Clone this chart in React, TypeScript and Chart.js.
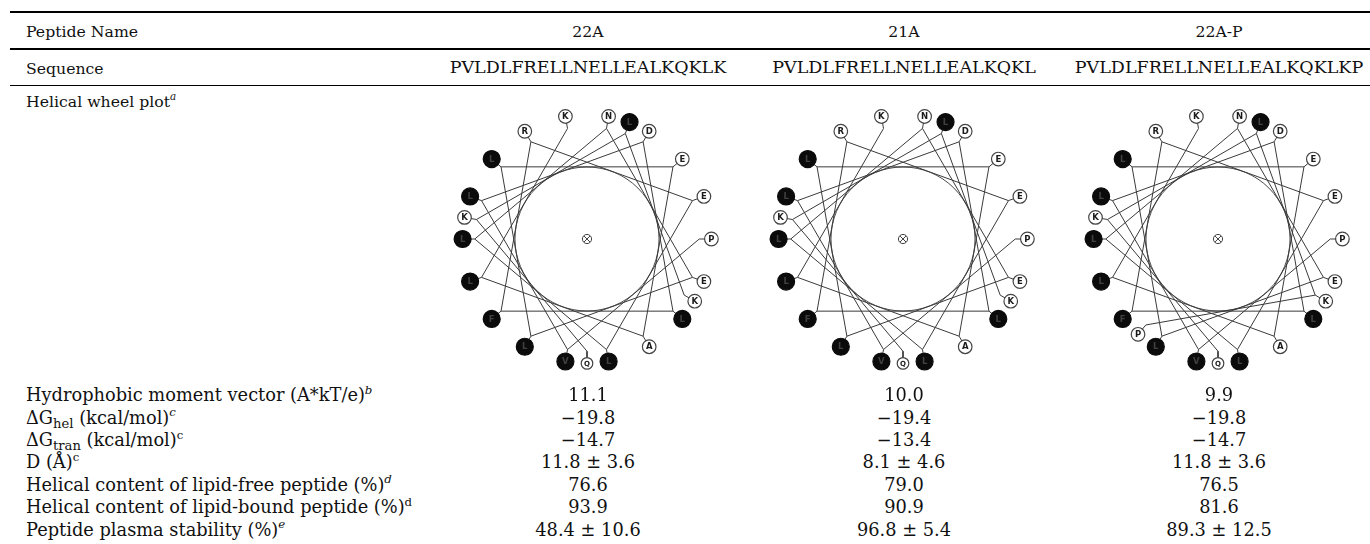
import React, { useEffect, useRef } from "react";
import { Chart, registerables } from "chart.js";

Chart.register(...registerables);

// ---------------- data ----------------
const peptideNames = ["22A", "21A", "22A-P"];
const sequences = ["PVLDLFRELLNELLEALKQKLK", "PVLDLFRELLNELLEALKQKL", "PVLDLFRELLNELLEALKQKLKP"];
// residues as printed on each helical wheel in the figure
const wheelResidues = ["PVLDLFRELLNELLEALKQKLK", "PVLDLFRELLNELLEALKQKLK", "PVLDLFRELLNELLEALKQKLKP"];
const hydrophobicResidues = ["L", "V", "F", "I", "M", "W"];
const hydrophobicMoment = ["11.1", "10.0", "9.9"];
const deltaGhel = ["\u221219.8", "\u221219.4", "\u221219.8"];
const deltaGtran = ["\u221214.7", "\u221213.4", "\u221214.7"];
const depthD = ["11.8 \u00b1 3.6", "8.1 \u00b1 4.6", "11.8 \u00b1 3.6"];
const helicalLipidFree = ["76.6", "79.0", "76.5"];
const helicalLipidBound = ["93.9", "90.9", "81.6"];
const plasmaStability = ["48.4 \u00b1 10.6", "96.8 \u00b1 5.4", "89.3 \u00b1 12.5"];

// helical wheel geometry (degrees, clockwise from top)
const RESIDUES_PER_RING = 18;
const DEG_PER_RESIDUE = 100;
const FIRST_ANGLE = 90;
const EXTRA_SHIFT = 90;

type Seg = { t: string; sup?: boolean; sub?: boolean; it?: boolean };

const rowLabels: Seg[][] = [
  [{ t: "Hydrophobic moment vector (A*kT/e)" }, { t: "b", sup: true, it: true }],
  [{ t: "\u0394G" }, { t: "hel", sub: true }, { t: " (kcal/mol)" }, { t: "c", sup: true, it: true }],
  [{ t: "\u0394G" }, { t: "tran", sub: true }, { t: " (kcal/mol)" }, { t: "c", sup: true }],
  [{ t: "D (\u00c5)" }, { t: "c", sup: true }],
  [{ t: "Helical content of lipid-free peptide (%)" }, { t: "d", sup: true, it: true }],
  [{ t: "Helical content of lipid-bound peptide (%)" }, { t: "d", sup: true }],
  [{ t: "Peptide plasma stability (%)" }, { t: "e", sup: true, it: true }],
];
const rowValues = [hydrophobicMoment, deltaGhel, deltaGtran, depthD, helicalLipidFree, helicalLipidBound, plasmaStability];

// ---------------- layout / style ----------------
const FONT = '"DejaVu Serif", serif';
const COL_X = [588, 904, 1219];
const LABEL_X = 26;
const HEAD_SIZE = 15.7;
const SEQ_SIZE = 17.5;
const ROW_SIZE = 17.8;
const ROW_BASE = 401.5;
const ROW_STEP = 22.35;
const WHEEL_CY = 239;
const WHEEL_BOX = 300;
const RING_R = 133;
const VERTEX_R = 120;
const INNER_R = 77;
const LINE_COLOR = "#3a3a3a";

function Rich({ segs, size }: { segs: Seg[]; size: number }) {
  return (
    <>
      {segs.map((s, i) => {
        if (s.sup)
          return (
            <span key={i} style={{ fontSize: size * 0.66, position: "relative", top: -size * 0.42, fontStyle: s.it ? "italic" : "normal", lineHeight: 1 }}>
              {s.t}
            </span>
          );
        if (s.sub)
          return (
            <span key={i} style={{ fontSize: size * 0.74, position: "relative", top: size * 0.22, lineHeight: 1 }}>
              {s.t}
            </span>
          );
        return <span key={i}>{s.t}</span>;
      })}
    </>
  );
}

function TextAt({ x, baseline, size, center, children }: any) {
  return (
    <div
      style={{
        position: "absolute",
        left: x,
        top: baseline - 0.846 * size,
        fontSize: size,
        lineHeight: 1,
        fontFamily: FONT,
        whiteSpace: "nowrap",
        color: "#111",
        transform: center ? "translateX(-50%)" : undefined,
      }}
    >
      {children}
    </div>
  );
}

function Rule({ y, h }: { y: number; h: number }) {
  return <div style={{ position: "absolute", left: 10, width: 1360, top: y, height: h, background: "#000" }} />;
}

function residueAngle(i: number) {
  // i is 1-based
  const a = FIRST_ANGLE + DEG_PER_RESIDUE * (i - 1) + (i > RESIDUES_PER_RING ? EXTRA_SHIFT : 0);
  return ((a % 360) + 360) % 360;
}

function polar(r: number, deg: number) {
  const a = (deg * Math.PI) / 180;
  return { x: r * Math.sin(a), y: r * Math.cos(a) };
}

function Wheel({ residues, cx }: { residues: string; cx: number }) {
  const ref = useRef<HTMLCanvasElement>(null);
  useEffect(() => {
    if (!ref.current) return;
    const info = residues.split("").map((aa, k) => ({
      aa,
      ang: residueAngle(k + 1),
      hyd: hydrophobicResidues.includes(aa),
      extra: k + 1 > RESIDUES_PER_RING,
    }));
    const half = WHEEL_BOX / 2;
    const main = info.filter((p) => !p.extra);
    const extra = info.filter((p) => p.extra);

    const stubSets = info.map((p) => ({
      type: "scatter" as const,
      data: [polar(VERTEX_R, p.ang), polar(RING_R, p.ang)],
      showLine: true,
      borderColor: LINE_COLOR,
      borderWidth: 1,
      pointRadius: 0,
      order: 5,
    }));

    const lettersPlugin = {
      id: "wheelLetters",
      beforeDatasetsDraw(chart: any) {
        const xs = chart.scales.x;
        const ys = chart.scales.y;
        const c = chart.ctx;
        const px = xs.getPixelForValue(0);
        const py = ys.getPixelForValue(0);
        const r = xs.getPixelForValue(INNER_R) - px;
        c.save();
        c.strokeStyle = "#4a4a4a";
        c.lineWidth = 1;
        c.beginPath();
        c.arc(px, py, r, 0, Math.PI * 2);
        c.stroke();
        c.restore();
      },
      afterDatasetsDraw(chart: any) {
        const meta = chart.getDatasetMeta(0);
        const c = chart.ctx;
        c.save();
        c.textAlign = "center";
        c.textBaseline = "middle";
        meta.data.forEach((el: any, idx: number) => {
          const p = info[idx];
          c.fillStyle = p.hyd ? "#404040" : "#1a1a1a";
          c.font = p.aa === "Q" ? 'bold 7px "DejaVu Sans"' : 'bold 8.5px "DejaVu Sans"';
          c.fillText(p.aa, el.x, el.y + 0.5);
        });
        c.restore();
      },
    };

    const chart = new Chart(ref.current, {
      type: "scatter",
      data: {
        datasets: [
          {
            data: info.map((p) => polar(RING_R, p.ang)),
            pointRadius: info.map((p) => (p.hyd ? 8.5 : p.aa === "Q" ? 5.8 : 6.8)),
            pointBackgroundColor: info.map((p) => (p.hyd ? "#0b0b0b" : "#ffffff")),
            pointBorderColor: info.map((p) => (p.hyd ? "#0b0b0b" : "#444")),
            pointBorderWidth: 1.2,
            showLine: false,
            order: 0,
          } as any,
          {
            data: [{ x: 0, y: 0 }],
            pointStyle: "crossRot",
            pointRadius: 4.3,
            pointBorderColor: "#444",
            pointBorderWidth: 1,
            order: 1,
          },
          {
            data: [{ x: 0, y: 0 }],
            pointStyle: "circle",
            pointRadius: 4.6,
            pointBackgroundColor: "#fff",
            pointBorderColor: "#444",
            pointBorderWidth: 1,
            order: 2,
          },
          {
            data: main.map((p) => polar(VERTEX_R, p.ang)),
            showLine: true,
            borderColor: LINE_COLOR,
            borderWidth: 1,
            pointRadius: 0,
            order: 4,
          },
          {
            data: extra.map((p) => polar(VERTEX_R, p.ang)),
            showLine: true,
            borderColor: LINE_COLOR,
            borderWidth: 1,
            pointRadius: 0,
            order: 4,
          },
          ...stubSets,
        ],
      },
      options: {
        animation: false,
        responsive: false,
        maintainAspectRatio: false,
        events: [],
        layout: { padding: 0 },
        elements: { line: { tension: 0 } },
        plugins: { legend: { display: false }, tooltip: { enabled: false }, title: { display: false } },
        scales: {
          x: { type: "linear", min: -half, max: half, display: false },
          y: { type: "linear", min: -half, max: half, display: false },
        },
      },
      plugins: [lettersPlugin],
    } as any);
    return () => chart.destroy();
  }, [residues]);

  return (
    <canvas
      ref={ref}
      width={WHEEL_BOX}
      height={WHEEL_BOX}
      style={{ position: "absolute", left: cx - WHEEL_BOX / 2, top: WHEEL_CY - WHEEL_BOX / 2, width: WHEEL_BOX, height: WHEEL_BOX }}
    />
  );
}

export default function App() {
  return (
    <div style={{ position: "absolute", left: 0, top: 0, width: 1370, height: 544, background: "#fff", overflow: "hidden" }}>
      <Rule y={11} h={2} />
      <Rule y={48} h={2} />
      <Rule y={85} h={1} />

      <TextAt x={LABEL_X} baseline={37.3} size={HEAD_SIZE}>Peptide Name</TextAt>
      {peptideNames.map((n, i) => (
        <TextAt key={n} x={COL_X[i]} baseline={37.3} size={HEAD_SIZE} center>
          {n}
        </TextAt>
      ))}

      <TextAt x={LABEL_X} baseline={74} size={HEAD_SIZE}>Sequence</TextAt>
      {sequences.map((s, i) => (
        <TextAt key={s} x={COL_X[i]} baseline={74} size={SEQ_SIZE} center>
          {s}
        </TextAt>
      ))}

      <TextAt x={LABEL_X} baseline={107} size={HEAD_SIZE}>
        <Rich segs={[{ t: "Helical wheel plot" }, { t: "a", sup: true, it: true }]} size={HEAD_SIZE} />
      </TextAt>

      {wheelResidues.map((r, i) => (
        <Wheel key={i} residues={r} cx={COL_X[i] - 1} />
      ))}

      {rowLabels.map((segs, k) => (
        <React.Fragment key={k}>
          <TextAt x={LABEL_X} baseline={ROW_BASE + ROW_STEP * k} size={ROW_SIZE}>
            <Rich segs={segs} size={ROW_SIZE} />
          </TextAt>
          {rowValues[k].map((v, i) => (
            <TextAt key={i} x={COL_X[i]} baseline={ROW_BASE + ROW_STEP * k} size={ROW_SIZE} center>
              {v}
            </TextAt>
          ))}
        </React.Fragment>
      ))}
    </div>
  );
}
